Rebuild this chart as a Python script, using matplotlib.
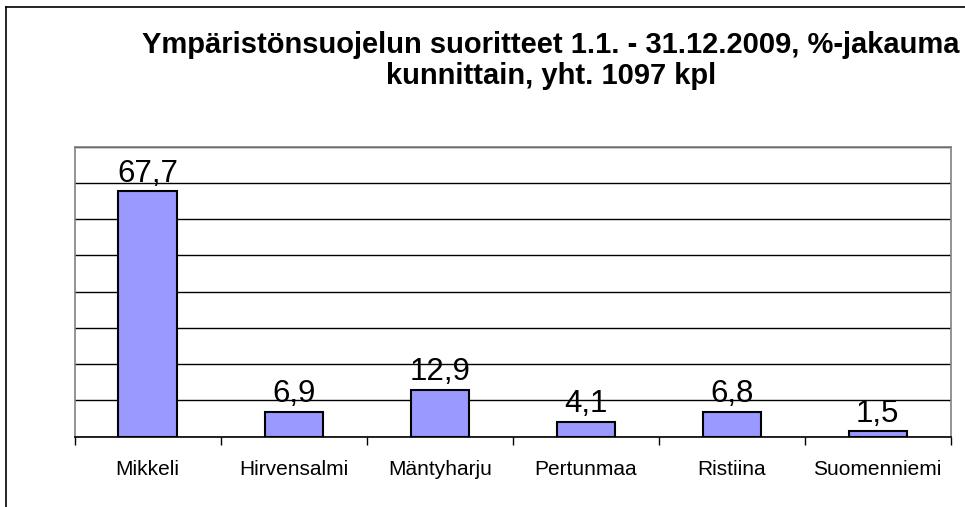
import matplotlib
matplotlib.use("Agg")
import matplotlib.pyplot as plt
from matplotlib.lines import Line2D
import numpy as np

categories = ["Mikkeli", "Hirvensalmi", "Mäntyharju", "Pertunmaa", "Ristiina", "Suomenniemi"]
values = [67.7, 6.9, 12.9, 4.1, 6.8, 1.5]
value_labels = ["67,7", "6,9", "12,9", "4,1", "6,8", "1,5"]
title_lines = ["Ympäristönsuojelun suoritteet 1.1. - 31.12.2009, %-jakauma",
               "kunnittain, yht. 1097 kpl"]

plt.rcParams['font.family'] = ['Liberation Sans', 'DejaVu Sans']

W, H = 965, 507
fig = plt.figure(figsize=(W / 100, H / 100), dpi=100)
fig.patch.set_facecolor('white')

left, right, top, bottom = 74.7, 950.7, 146.7, 436.7
ax = fig.add_axes([left / W, 1 - bottom / H, (right - left) / W, (bottom - top) / H])

x = np.arange(len(categories))
ax.bar(x, values, width=0.4, color='#9999FF', edgecolor='black', linewidth=1.5, zorder=3)
ax.set_xlim(-0.5, len(categories) - 0.5)
ax.set_ylim(0, 80)

ax.set_yticks(np.arange(0, 81, 10))
ax.yaxis.grid(True, color='black', linewidth=1.0, zorder=0)
ax.tick_params(axis='y', left=False, labelleft=False)

ax.set_xticks(np.arange(-0.5, len(categories), 1.0))
ax.tick_params(axis='x', direction='out', length=6, width=1, color='black', labelbottom=False)

for s in ['left', 'top', 'right']:
    ax.spines[s].set_color('#808080')
    ax.spines[s].set_linewidth(1.2)
ax.spines['bottom'].set_color('black')
ax.spines['bottom'].set_linewidth(1.2)

for xi, v, lab in zip(x, values, value_labels):
    ax.annotate(lab, (xi, v), xytext=(0, 7), textcoords='offset points',
                ha='center', va='baseline', fontsize=22.5, color='black')

for xi, c in zip(x, categories):
    ax.annotate(c, (xi, 0), xytext=(0, -38 * 0.72), textcoords='offset points',
                ha='center', va='baseline', fontsize=15, color='black')

fig.text(551 / W, 1 - 53 / H, title_lines[0], ha='center', va='baseline',
         fontsize=21, fontweight='bold')
fig.text(551 / W, 1 - 84 / H, title_lines[1], ha='center', va='baseline',
         fontsize=21, fontweight='bold')

fig.add_artist(Line2D([6 / W, 6 / W], [1 - 7 / H, 0], transform=fig.transFigure,
                      color='black', linewidth=1.2))
fig.add_artist(Line2D([6 / W, 1], [1 - 7 / H, 1 - 7 / H], transform=fig.transFigure,
                      color='black', linewidth=1.2))

fig.savefig("out.png", dpi=100)
